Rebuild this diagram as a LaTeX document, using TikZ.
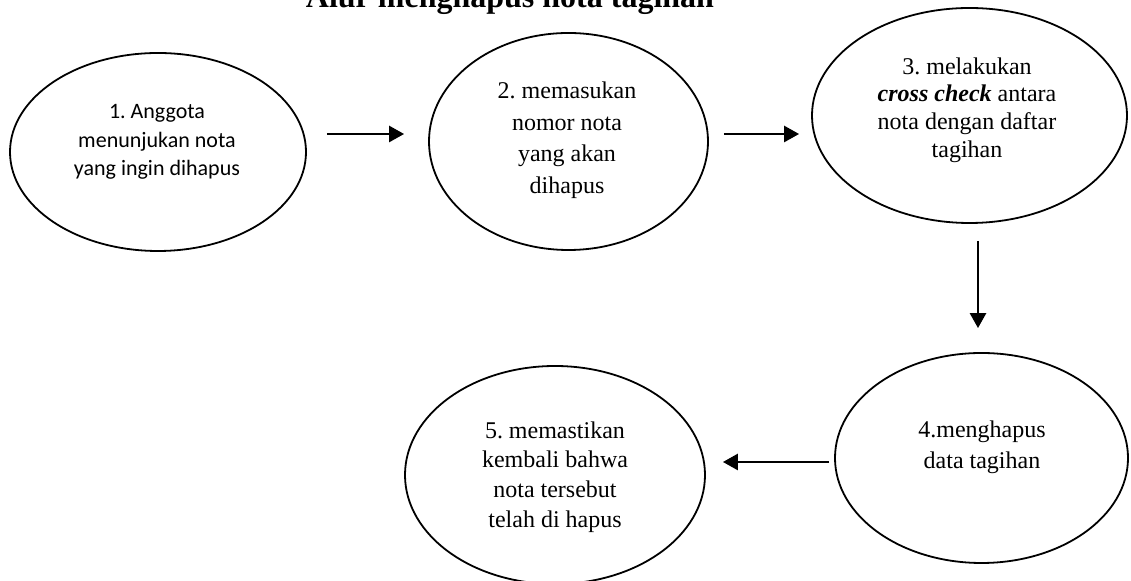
\documentclass[tikz,border=0pt]{standalone}
\usepackage{fontspec}
\setmainfont{Liberation Serif}
\newfontfamily\calibrifont{Carlito}
\usetikzlibrary{shapes.geometric}
\usetikzlibrary{arrows.meta}
\frenchspacing

\begin{document}
\begin{tikzpicture}[x=0.5pt,y=-0.5pt,
        bubble/.style={ellipse,draw=black,line width=0.9pt,inner sep=0pt},
        txt/.style={align=center,inner sep=0pt},
        arr/.style={line width=1.3pt,-{Triangle[length=7.5pt,width=8pt]}}
        ]
        \useasboundingbox (0,0) rectangle (1131,581);
        \node (title) [anchor=base,font=\bfseries\fontsize{16}{19}\selectfont] at (510,8) {Alur menghapus nota tagihan};
        % langkah 1 - 3
        \node (s1) [bubble,minimum width=148pt,minimum height=99pt] at (158,152) {};
        \node (t1) [txt,font=\calibrifont\fontsize{11}{14.3}\selectfont] at (157,142)
            {1. Anggota\\ menunjukan nota\\ yang ingin dihapus};
        \node (s2) [bubble,minimum width=139.5pt,minimum height=108.5pt] at (568.5,141.5) {};
        \node (t2) [txt,font=\fontsize{12}{15.75}\selectfont] at (567,140)
            {2. memasukan\\ nomor nota\\ yang akan\\ dihapus};
        \node (s3) [bubble,minimum width=157.5pt,minimum height=107.5pt] at (969.5,115.5) {};
        \node (t3) [txt,font=\fontsize{12}{13.8}\selectfont] at (967,110)
            {3. melakukan\\ \textbf{\textit{cross check}} antara\\ nota dengan daftar\\ tagihan};
        % langkah 4 - 5
        \node (s4) [bubble,minimum width=146.5pt,minimum height=105pt] at (981.5,458) {};
        \node (t4) [txt,font=\fontsize{12}{15.5}\selectfont] at (982,447)
            {4.menghapus\\ data tagihan};
        \node (s5) [bubble,minimum width=150pt,minimum height=109pt] at (555,475) {};
        \node (t5) [txt,font=\fontsize{12}{14.9}\selectfont] at (555,477)
            {5. memastikan\\ kembali bahwa\\ nota tersebut\\ telah di hapus};
        % panah
        \coordinate (r1) at (0,134);
        \coordinate (c3) at (978,0);
        \coordinate (r4) at (0,462);
        \draw[arr,shorten <=10pt,shorten >=12pt] (s1.east |- r1) -- (s2.west |- r1);
        \draw[arr,shorten <=7.5pt,shorten >=6pt] (s2.east |- r1) -- (s3.west |- r1);
        \draw[arr,shorten <=8.5pt,shorten >=12pt] (s3.south -| c3) -- (s4.north -| c3);
        \draw[arr,shorten <=2.5pt,shorten >=8.5pt] (s4.west |- r4) -- (s5.east |- r4);
\end{tikzpicture}
\end{document}
